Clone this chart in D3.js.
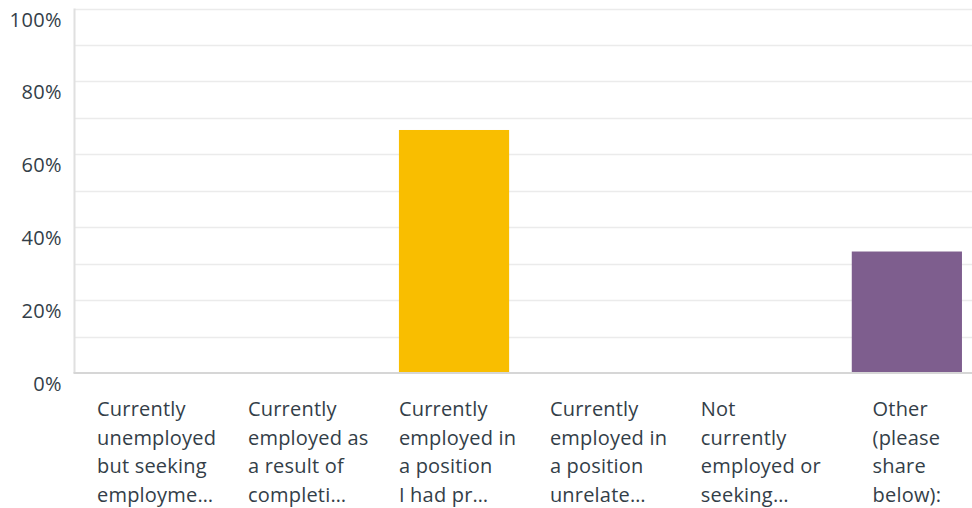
<!DOCTYPE html>
<html>
<head>
<meta charset="utf-8">
<script src="https://cdn.jsdelivr.net/npm/d3@7"></script>
<style>
  html, body { margin: 0; padding: 0; background: #fff; }
  svg { display: block; }
  text { font-family: "Open Sans", "DejaVu Sans", sans-serif; fill: #333e48; }
</style>
</head>
<body>
<svg id="chart" width="972" height="508"></svg>
<script>
// Answer choices, each split into the lines it is shown on
const categories = [
  ["Currently", "unemployed", "but seeking", "employme\u2026"],
  ["Currently", "employed as", "a result of", "completi\u2026"],
  ["Currently", "employed in", "a position", "I had pr\u2026"],
  ["Currently", "employed in", "a position", "unrelate\u2026"],
  ["Not", "currently", "employed or", "seeking\u2026"],
  ["Other", "(please", "share", "below):"]
];
// Share of responses per answer choice (%)
const values = [0, 0, 66.67, 0, 0, 33.33];
const barColors = ["#f9be00", "#f9be00", "#f9be00", "#f9be00", "#f9be00", "#7e5e8e"];
const yTickLabels = [0, 20, 40, 60, 80, 100];
const gridValues = d3.range(0, 101, 10);

const svg = d3.select("#chart");
const plotLeft = 75, plotTop = 8.5, plotBottom = 373, plotRight = 984;

const keys = categories.map((c, i) => i);
const x = d3.scaleBand().domain(keys).range([plotLeft, plotRight])
  .paddingInner(0.27).paddingOuter(0.146);
const y = d3.scaleLinear().domain([0, 100]).range([plotBottom, plotTop]);

// horizontal gridlines
svg.append("g").selectAll("line").data(gridValues.filter(v => v > 0)).join("line")
  .attr("x1", plotLeft).attr("x2", plotRight)
  .attr("y1", d => Math.round(y(d)) + 0.5).attr("y2", d => Math.round(y(d)) + 0.5)
  .attr("stroke", "#ebebeb").attr("stroke-width", 1.5);

// vertical axis line
svg.append("line")
  .attr("x1", plotLeft - 0.5).attr("x2", plotLeft - 0.5)
  .attr("y1", plotTop).attr("y2", plotBottom)
  .attr("stroke", "#e0e0e0").attr("stroke-width", 2);

// bars
svg.append("g").selectAll("rect").data(values).join("rect")
  .attr("x", (d, i) => x(i))
  .attr("width", x.bandwidth())
  .attr("y", d => y(d))
  .attr("height", d => plotBottom - y(d))
  .attr("fill", (d, i) => barColors[i]);

// baseline
svg.append("line")
  .attr("x1", plotLeft - 1.5).attr("x2", plotRight)
  .attr("y1", plotBottom).attr("y2", plotBottom)
  .attr("stroke", "#d6d6d6").attr("stroke-width", 2);

// y tick labels, set just below their gridline
svg.append("g").selectAll("text").data(yTickLabels).join("text")
  .attr("x", 62)
  .attr("y", d => y(d) + 18)
  .attr("text-anchor", "end")
  .style("font-size", "20px")
  .style("letter-spacing", "0.4px")
  .text(d => d + "%");

// category labels
const lineH = 28.7;
const labels = svg.append("g").selectAll("text").data(categories).join("text")
  .style("font-size", "20px")
  .style("letter-spacing", "0.2px")
  .attr("y", 416);
labels.each(function(lines, i) {
  const t = d3.select(this);
  lines.forEach((ln, j) => {
    t.append("tspan").attr("dy", j === 0 ? 0 : lineH).text(ln);
  });
  const spans = t.selectAll("tspan").nodes();
  const widest = d3.max(spans, s => s.getComputedTextLength());
  const truncated = lines.some(l => l.endsWith("\u2026"));
  const lx = truncated ? x(i) : x(i) + x.bandwidth() / 2 - widest / 2;
  t.selectAll("tspan").attr("x", lx);
});
</script>
</body>
</html>
